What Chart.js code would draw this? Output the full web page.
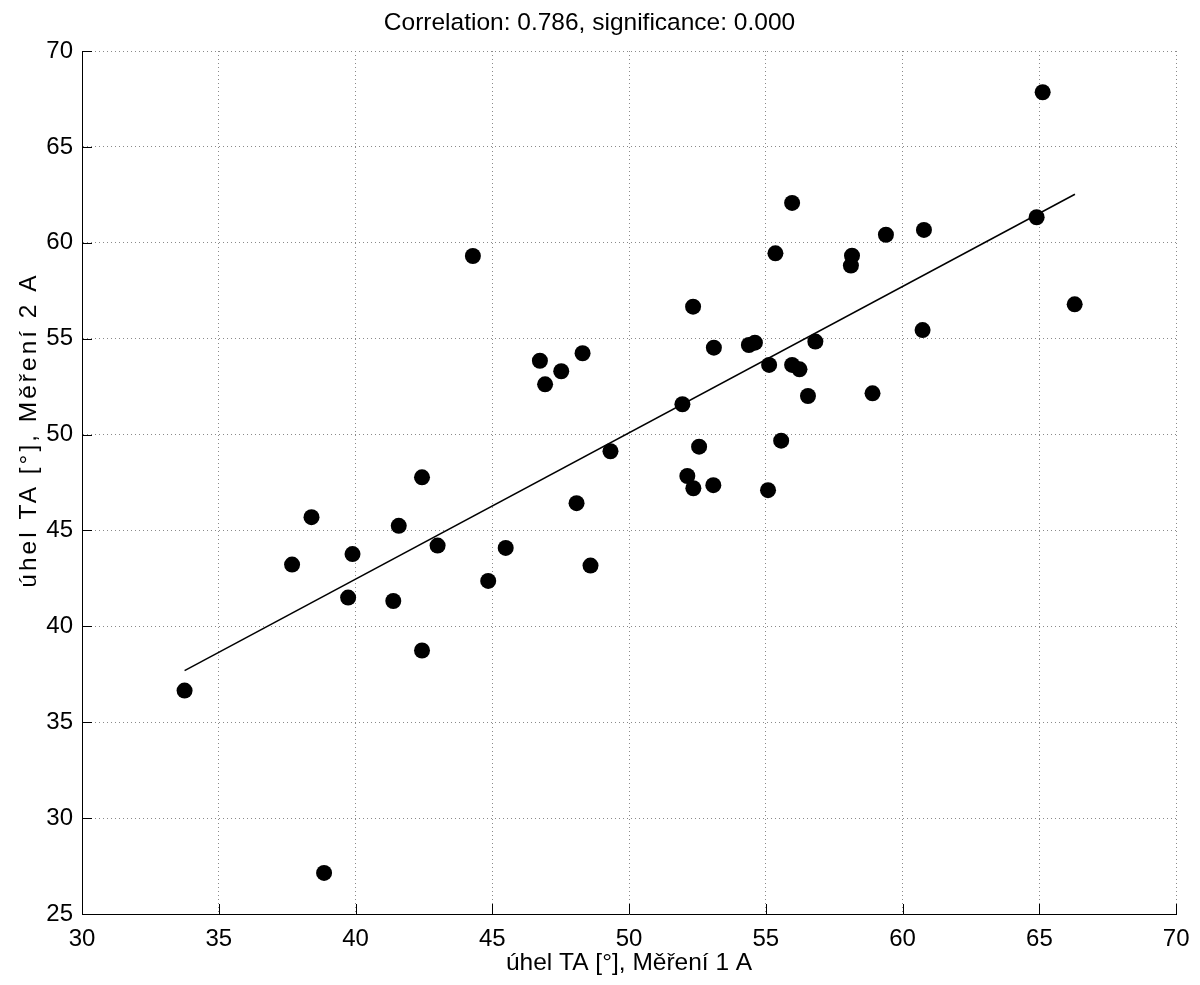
<!DOCTYPE html>
<html>
<head>
<meta charset="utf-8">
<title>Correlation</title>
<script src="https://cdn.jsdelivr.net/npm/chart.js@4.4.0/dist/chart.umd.min.js"></script>
<style>
  html, body { margin: 0; padding: 0; background: #fff; }
  #wrap { width: 1200px; height: 985px; position: relative; }
</style>
</head>
<body>
<div id="wrap"><canvas id="corrChart"></canvas></div>
<script>
// -------------------------------
// Data
// -------------------------------
const mereni1 = [
    33.75, 37.68, 38.39, 38.85, 39.73, 39.89, 41.38, 41.58, 42.43, 42.43,
    43.00, 44.29, 44.85, 45.49, 46.74, 46.93, 47.52, 48.08, 48.30, 48.59,
    49.32, 51.95, 52.13, 52.34, 52.35, 52.56, 53.08, 53.10, 54.38, 54.60,
    55.08, 55.12, 55.35, 55.56, 55.96, 55.96, 56.23, 56.54, 56.81, 58.11,
    58.15, 58.90, 59.39, 60.73, 60.78, 64.90, 65.12, 66.29
];
const mereni2 = [
    36.65, 43.22, 45.69, 27.14, 41.50, 43.77, 41.32, 45.24, 47.77, 38.74,
    44.21, 59.31, 42.37, 44.09, 53.85, 52.62, 53.30, 46.42, 54.24, 43.17,
    49.13, 51.58, 47.84, 56.67, 47.20, 49.37, 47.36, 54.53, 54.67, 54.79,
    47.10, 53.63, 59.45, 49.68, 62.08, 53.63, 53.40, 52.01, 54.85, 58.81,
    59.33, 52.15, 60.42, 55.45, 60.67, 61.33, 67.85, 56.79
];

// regression line end points
const fitX = [33.75, 66.30];
const fitY = [37.69, 62.53];

const xTicks = [30, 35, 40, 45, 50, 55, 60, 65, 70];
const yTicks = [25, 30, 35, 40, 45, 50, 55, 60, 65, 70];

const titleText = "Correlation: 0.786, significance: 0.000";
const xLabel = "úhel TA [°], Měření 1 A";
const yLabel = "úhel TA [°], Měření 2 A";

// -------------------------------
// Plugin: inward tick marks + rotated y label
// -------------------------------
const matlabAxes = {
    id: 'matlabAxes',
    afterDatasetsDraw(chart) {
        const { ctx, chartArea, scales } = chart;
        ctx.save();
        ctx.strokeStyle = '#000';
        ctx.lineWidth = 1;
        ctx.beginPath();
        xTicks.forEach(v => {
            const px = Math.round(scales.x.getPixelForValue(v)) + 0.5;
            ctx.moveTo(px, chartArea.bottom);
            ctx.lineTo(px, chartArea.bottom - 10);
        });
        yTicks.forEach(v => {
            const py = Math.round(scales.y.getPixelForValue(v)) + 0.5;
            ctx.moveTo(chartArea.left, py);
            ctx.lineTo(chartArea.left + 10, py);
        });
        ctx.stroke();

        // y axis title, drawn by hand so it sits where the original has it
        ctx.translate(29, 430);
        ctx.rotate(-Math.PI / 2);
        ctx.font = '24.5px "Liberation Sans", Arial, sans-serif';
        if ('letterSpacing' in ctx) ctx.letterSpacing = '3px';
        ctx.fillStyle = '#000';
        ctx.textAlign = 'center';
        ctx.textBaseline = 'middle';
        ctx.fillText(yLabel, 0, 0);
        ctx.restore();
    }
};

// -------------------------------
// Chart
// -------------------------------
Chart.defaults.color = '#000';
Chart.defaults.font.family = '"Liberation Sans", Arial, sans-serif';

const gridOpts = {
    color: '#8a8a8a',
    lineWidth: 1,
    drawTicks: false
};
const borderOpts = {
    color: '#000',
    width: 1,
    dash: [1, 3]   // v4: applies to the grid lines, axis line stays solid
};

const ctx = document.getElementById('corrChart').getContext('2d');

const corrChart = new Chart(ctx, {
    type: 'scatter',
    data: {
        datasets: [
            {
                label: 'body',
                data: mereni1.map((v, i) => ({ x: v, y: mereni2[i] })),
                backgroundColor: '#000',
                borderColor: '#000',
                borderWidth: 0,
                pointRadius: 8,
                pointHoverRadius: 8,
                showLine: false
            },
            {
                label: 'fit',
                data: fitX.map((v, i) => ({ x: v, y: fitY[i] })),
                borderColor: '#000',
                borderWidth: 1.5,
                pointRadius: 0,
                showLine: true,
                fill: false,
                tension: 0
            }
        ]
    },
    options: {
        responsive: true,
        maintainAspectRatio: false,
        animation: false,
        layout: { padding: { left: 0, right: 21, top: 0, bottom: 0 } },
        plugins: {
            legend: { display: false },
            tooltip: { enabled: false },
            title: {
                display: true,
                text: titleText,
                font: { size: 24.5, weight: 'normal' },
                color: '#000',
                padding: { top: 8.5, bottom: 13.1 }
            }
        },
        scales: {
            x: {
                type: 'linear',
                min: 30,
                max: 70,
                afterBuildTicks: scale => { scale.ticks = xTicks.map(v => ({ value: v })); },
                afterFit: scale => { scale.height = 71; },
                ticks: { font: { size: 24 }, padding: 10.5, maxRotation: 0, autoSkip: false },
                grid: gridOpts,
                border: borderOpts,
                title: {
                    display: true,
                    text: xLabel,
                    font: { size: 24.5 },
                    padding: { top: 0, bottom: 7.5 }
                }
            },
            y: {
                type: 'linear',
                min: 25,
                max: 70,
                afterBuildTicks: scale => { scale.ticks = yTicks.map(v => ({ value: v })); },
                afterFit: scale => { scale.width = 82; },
                ticks: { font: { size: 24 }, padding: 9, autoSkip: false },
                grid: gridOpts,
                border: borderOpts
            }
        }
    },
    plugins: [matlabAxes]
});
</script>
</body>
</html>
